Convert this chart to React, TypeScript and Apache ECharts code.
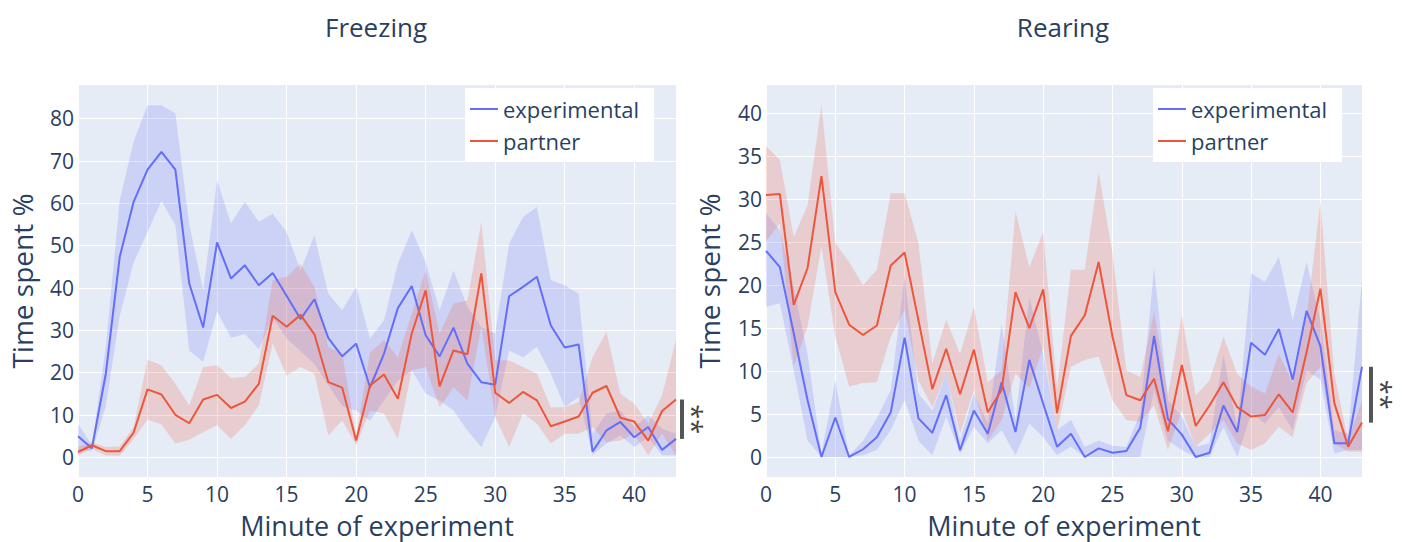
import React, { useEffect, useRef } from 'react';
import * as echarts from 'echarts';

// ---------- data ----------
const minutes = ['0','1','2','3','4','5','6','7','8','9','10','11','12','13','14','15','16','17','18','19','20','21','22','23','24','25','26','27','28','29','30','31','32','33','34','35','36','37','38','39','40','41','42','43'];

// Freezing
const freezeExp = [4.9, 2.1, 19.7, 47.3, 60.3, 67.9, 72.1, 67.9, 41, 30.6, 50.7, 42.2, 45.3, 40.6, 43.5, 38.1, 32.6, 37.3, 28.1, 23.8, 26.8, 16.5, 24.4, 35.2, 40.4, 28.8, 23.8, 30.6, 22.1, 17.7, 17.1, 38, 40.2, 42.6, 31.1, 25.9, 26.6, 1.3, 6.3, 8.3, 4.7, 7.1, 1.7, 4.3];
const freezeExpUpper = [7.9, 2.8, 26, 60.7, 74.5, 83.1, 83.1, 81.2, 55, 39.4, 65.4, 55.2, 60.3, 55.6, 57.5, 53.2, 44.1, 52.4, 38.6, 34.7, 40.2, 28, 32.3, 45.7, 53.6, 46.1, 34.7, 44.1, 35.5, 30.7, 29.2, 50.4, 56.7, 59.1, 41.8, 40.6, 38.6, 5.5, 10.3, 11, 7.1, 9.9, 6.7, 5.5];
const freezeExpLower = [1.6, 1.5, 12, 33.4, 45.9, 53.2, 60.5, 54.8, 25.1, 22.5, 34.4, 28.2, 29.1, 25.5, 33, 28, 25, 22, 17, 12, 11, 8.5, 13.4, 18.1, 20.5, 15, 13.4, 11, 6.3, 2.4, 9.5, 25.2, 23.6, 26, 19.7, 11.8, 14.2, 0.5, 3.2, 5.1, 2.4, 4.7, 0.4, 0.4];
const freezePar = [1.2, 2.8, 1.4, 1.4, 5.8, 16, 14.8, 10, 8, 13.6, 14.7, 11.6, 13.1, 17.3, 33.4, 30.8, 33.6, 29, 17.7, 16.4, 3.9, 16.9, 19.5, 13.8, 29.2, 39.4, 16.7, 25.2, 24.3, 43.4, 15.2, 12.8, 15.4, 13.4, 7.3, 8.4, 9.6, 15.2, 16.8, 9.3, 8.4, 3.9, 10.9, 13.6];
const freezeParUpper = [2.4, 3.5, 2.4, 2.5, 7.1, 23, 21.7, 17.4, 12.2, 21.3, 21.7, 18.7, 18.9, 22.1, 41.8, 42.6, 45.7, 40.2, 26, 24.4, 5.1, 24.7, 27.6, 23.6, 33.9, 44.1, 29.2, 36.3, 37, 55.6, 22.9, 22.8, 21.3, 19.7, 11.8, 11.8, 13, 23.6, 29.6, 15, 12.6, 7.9, 14.6, 27.7];
const freezeParLower = [0.4, 2, 0.4, 0.3, 4.3, 8.8, 7.7, 3.2, 4.1, 5.9, 7.5, 4.3, 7.5, 12.2, 26.8, 19.3, 21.3, 19.7, 5.1, 8.7, 2.8, 11, 10.3, 4.3, 20.5, 21.3, 11.8, 16.5, 13.4, 30.8, 9.5, 2.4, 10.3, 7.9, 3.2, 5.5, 5.5, 7.1, 3.5, 3.9, 5.5, 0.4, 5.5, 0.4];

// Rearing
const rearExp = [24, 22.1, 14.4, 6.6, 0, 4.6, 0, 0.9, 2.3, 5.2, 13.9, 4.5, 2.8, 7.2, 0.8, 5.4, 2.7, 8.7, 2.9, 11.3, 6.2, 1.2, 2.7, 0, 1, 0.5, 0.7, 3.4, 14.1, 4.4, 2.6, 0, 0.5, 6, 2.9, 13.3, 11.9, 14.9, 9, 17, 12.9, 1.6, 1.6, 10.5];
const rearExpUpper = [28.4, 26.4, 19.8, 12, 0.4, 8.9, 0.2, 1.9, 4.5, 7.8, 21, 7.4, 5.4, 9.7, 1.9, 7.4, 3.9, 15.5, 4.3, 18.6, 12, 3.1, 4.3, 1.2, 1.9, 1.3, 1.2, 5.1, 22, 6.6, 4.7, 1.2, 1.6, 11.9, 3.5, 21.4, 20.4, 23.3, 15.9, 22.7, 15.9, 3.1, 2.7, 20.6];
const rearExpLower = [17.5, 17.9, 10.1, 1.9, 0, 0, 0, 0.2, 0.8, 3.1, 6.6, 1.9, 0.2, 4.7, 0.4, 3.5, 1.6, 3.1, 0.2, 3.9, 2.3, 0.2, 1.2, 0, 0, 0, 0, 0, 7.8, 1.9, 0.8, 0, 0, 3.5, 0, 5.1, 3.9, 5.8, 3.1, 10.1, 9, 0.4, 0.8, 0.8];
const rearPar = [30.5, 30.6, 17.7, 22, 32.7, 19.2, 15.4, 14.2, 15.3, 22.3, 23.8, 15.9, 7.9, 12.6, 7.3, 12.5, 5.2, 7.8, 19.2, 15, 19.5, 5.1, 14.1, 16.5, 22.7, 14, 7.2, 6.6, 9.1, 3, 10.7, 3.6, 6, 8.7, 5.8, 4.7, 4.9, 7.3, 5.2, 12.2, 19.6, 6.3, 1.2, 4];
const rearParUpper = [36.2, 34.6, 25.6, 29.3, 41, 24.9, 22.7, 20, 21.8, 30.7, 30.7, 24.9, 10.9, 16, 12, 17.5, 8.7, 10.1, 28.6, 22.1, 26.2, 8, 21.8, 21.8, 33.2, 23.7, 10.1, 9.3, 16.9, 7.2, 16.5, 7.2, 8.9, 14, 9.7, 8.2, 7.4, 12, 8.6, 16.3, 29.7, 9.7, 1.9, 6.6];
const rearParLower = [25.1, 27.2, 10.5, 15.2, 24.5, 14, 8.2, 8.6, 8.7, 14, 17.1, 8.9, 5.8, 9.7, 2.7, 7.8, 1.9, 4.3, 9.7, 8, 12.8, 3, 10.5, 11.3, 11.7, 6.6, 4.3, 4.1, 6, 0.8, 5.4, 1.2, 2.7, 4.3, 1.6, 0.8, 1.6, 3.5, 2.3, 8.6, 10.5, 1.6, 0.6, 0.6];

const panelTitles = ['Freezing', 'Rearing'];
const seriesNames = ['experimental', 'partner'];
const xTitle = 'Minute of experiment';
const yTitle = 'Time spent %';
const significance = '**';

// ---------- style ----------
const FONT = '"Open Sans", "Noto Sans", sans-serif';
const TEXT = '#2a3f5f';
const BLUE = '#636efa';
const RED = '#EF553B';
const BLUE_FILL = 'rgba(99,110,250,0.2)';
const RED_FILL = 'rgba(239,85,59,0.2)';
const BG = '#E5ECF6';

const GRIDS = [
  { left: 78, top: 85, width: 598, height: 392 },
  { left: 766, top: 85, width: 596, height: 392 },
];
const Y_RANGES = [
  { min: -4.7, max: 87.9, step: 10 },
  { min: -2.33, max: 43.3, step: 5 },
];

function band(name: string, lower: number[], upper: number[], fill: string, idx: number) {
  const stack = `${name}-${idx}`;
  return [
    {
      type: 'line', name: `${name} lower`, xAxisIndex: idx, yAxisIndex: idx,
      data: lower, stack, symbol: 'none', silent: true,
      lineStyle: { opacity: 0, width: 0 },
    },
    {
      type: 'line', name: `${name} band`, xAxisIndex: idx, yAxisIndex: idx,
      data: upper.map((u, i) => u - lower[i]), stack, symbol: 'none', silent: true,
      lineStyle: { opacity: 0, width: 0 },
      areaStyle: { color: fill, opacity: 1 },
    },
  ];
}

function mainLine(name: string, data: number[], color: string, idx: number) {
  return {
    type: 'line', name, xAxisIndex: idx, yAxisIndex: idx, data,
    symbol: 'none', lineStyle: { color, width: 2 }, itemStyle: { color },
  };
}

export default function App() {
  const ref = useRef<HTMLDivElement>(null);

  useEffect(() => {
    if (!ref.current) return;
    const chart = echarts.init(ref.current, undefined, { renderer: 'svg' });

    const panels = [
      { exp: freezeExp, expU: freezeExpUpper, expL: freezeExpLower, par: freezePar, parU: freezeParUpper, parL: freezeParLower },
      { exp: rearExp, expU: rearExpUpper, expL: rearExpLower, par: rearPar, parU: rearParUpper, parL: rearParLower },
    ];

    const series: any[] = [];
    panels.forEach((p, i) => {
      series.push(...band('exp', p.expL, p.expU, BLUE_FILL, i));
      series.push(...band('par', p.parL, p.parU, RED_FILL, i));
    });
    panels.forEach((p, i) => {
      series.push(mainLine(seriesNames[0], p.exp, BLUE, i));
      series.push(mainLine(seriesNames[1], p.par, RED, i));
    });

    const legendLefts = [465, 1153];

    chart.setOption({
      animation: false,
      textStyle: { fontFamily: FONT, color: TEXT },
      grid: GRIDS.map((g) => ({ ...g, show: true, backgroundColor: BG, borderWidth: 0, containLabel: false })),
      xAxis: GRIDS.map((_, i) => ({
        type: 'category', gridIndex: i, data: minutes, boundaryGap: false,
        axisLine: { show: false }, axisTick: { show: false },
        axisLabel: { interval: 4, color: TEXT, fontSize: 21, lineHeight: 22, fontFamily: FONT, margin: 6 },
        splitLine: { show: true, interval: 4, lineStyle: { color: '#ffffff', width: 1 } },
      })),
      yAxis: GRIDS.map((_, i) => ({
        type: 'value', gridIndex: i, min: Y_RANGES[i].min, max: Y_RANGES[i].max, splitNumber: 9,
        axisLine: { show: false }, axisTick: { show: false },
        axisLabel: {
          color: TEXT, fontSize: 21, fontFamily: FONT, margin: 4,
          formatter: (v: number) => (Math.abs(v % Y_RANGES[i].step) < 1e-9 ? String(v) : ''),
        },
        splitLine: { show: true, showMinLine: false, showMaxLine: false, lineStyle: { color: '#ffffff', width: 1 } },
      })),
      legend: legendLefts.map((l) => ({
        data: seriesNames, left: l, top: 88, orient: 'vertical',
        backgroundColor: '#ffffff', padding: [9, 15, 9, 5], itemGap: 8,
        icon: 'rect', itemWidth: 28, itemHeight: 2,
        textStyle: { fontSize: 22, color: TEXT, fontFamily: FONT, lineHeight: 24 },
        selectedMode: false,
      })),
      series,
    });

    const texts: any[] = [];
    GRIDS.forEach((g, i) => {
      texts.push({
        type: 'text', x: g.left + g.width / 2 - 1, y: 27,
        style: { text: panelTitles[i], fontSize: 26, fontFamily: FONT, fill: TEXT, align: 'center', verticalAlign: 'middle' },
      });
      texts.push({
        type: 'text', x: g.left + g.width / 2, y: 525,
        style: { text: xTitle, fontSize: 27, lineHeight: 30, fontFamily: FONT, fill: TEXT, align: 'center', verticalAlign: 'middle' },
      });
      texts.push({
        type: 'text', x: g.left - (i === 0 ? 56 : 57), y: g.top + g.height / 2, rotation: Math.PI / 2,
        style: { text: yTitle, fontSize: 28, fontFamily: FONT, fill: TEXT, align: 'center', verticalAlign: 'middle' },
      });
      const p = panels[i];
      const last = minutes.length - 1;
      const yA = chart.convertToPixel({ yAxisIndex: i } as any, p.exp[last]) as unknown as number;
      const yB = chart.convertToPixel({ yAxisIndex: i } as any, p.par[last]) as unknown as number;
      const barX = g.left + g.width + (i === 0 ? 6 : 9);
      texts.push({
        type: 'line', shape: { x1: barX, y1: Math.min(yA, yB), x2: barX, y2: Math.max(yA, yB) },
        style: { stroke: '#555555', lineWidth: 4 },
      });
      texts.push({
        type: 'text', x: barX + 10, y: (yA + yB) / 2, rotation: -Math.PI / 2,
        style: { text: significance, fontSize: 27, fontFamily: FONT, fill: '#444444', align: 'center', verticalAlign: 'middle' },
      });
    });
    chart.setOption({ graphic: texts });

    return () => chart.dispose();
  }, []);

  return (
    <div
      ref={ref}
      style={{ position: 'absolute', left: 0, top: 0, width: 1402, height: 542, background: '#ffffff' }}
    />
  );
}
